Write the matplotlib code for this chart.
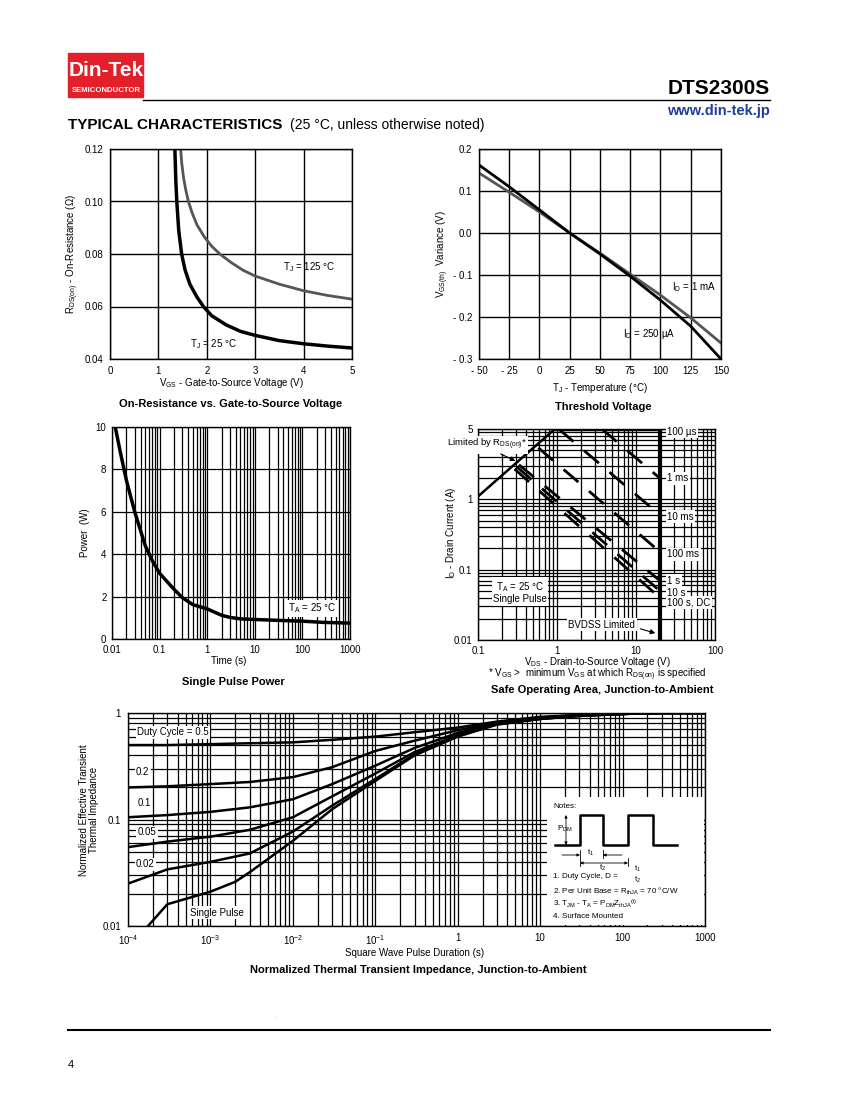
import matplotlib
matplotlib.use('Agg')
import matplotlib.pyplot as plt
from matplotlib.patches import Rectangle
from matplotlib.ticker import FixedLocator, FixedFormatter, LogLocator, NullFormatter

plt.rcParams['font.family'] = ['Liberation Sans', 'DejaVu Sans']
plt.rcParams['mathtext.default'] = 'regular'
plt.rcParams['font.size'] = 7

# ---- data ----
# on-resistance vs gate voltage
vgs_25 = [1.34, 1.36, 1.38, 1.42, 1.48, 1.55, 1.65, 1.8, 1.93, 2.1, 2.4, 2.7, 3.0, 3.5, 4.0, 4.5, 5.0]
rds_25 = [0.120, 0.108, 0.100, 0.089, 0.080, 0.074, 0.0685, 0.0635, 0.060, 0.0565, 0.053, 0.0505,
          0.049, 0.047, 0.0458, 0.0449, 0.0442]
vgs_125 = [1.46, 1.48, 1.52, 1.57, 1.62, 1.7, 1.8, 1.95, 2.1, 2.27, 2.5, 2.75, 3.0, 3.5, 4.0, 4.5, 5.0]
rds_125 = [0.120, 0.115, 0.109, 0.104, 0.100, 0.0955, 0.091, 0.0865, 0.083, 0.080, 0.0768, 0.0738,
           0.0716, 0.0685, 0.066, 0.0642, 0.0628]

# threshold voltage variance
temp = [-50, -25, 0, 25, 50, 75, 100, 125, 150]
vth_250ua = [0.162, 0.110, 0.055, 0.0, -0.050, -0.103, -0.160, -0.222, -0.300]
vth_1ma = [0.143, 0.097, 0.050, 0.0, -0.048, -0.098, -0.148, -0.202, -0.262]

# single pulse power
t_pulse = [0.0117, 0.015, 0.02, 0.03, 0.05, 0.07, 0.1, 0.2, 0.3, 0.5, 1, 2, 3, 5, 10, 30, 100, 300, 1000]
p_pulse = [10, 8.8, 7.5, 6.0, 4.4, 3.7, 3.1, 2.35, 1.95, 1.62, 1.42, 1.12, 1.02, 0.95, 0.92, 0.88,
           0.84, 0.78, 0.75]

# safe operating area
v_rds_lim = [0.1, 0.94]
i_rds_lim = [1.1, 10]
soa_names = ['100 µs', '1 ms', '10 ms', '100 ms', '1 s', '10 s', '100 s, DC']
soa_v0 = [0.94, 3.7, 1.05, 0.58, 0.33, 0.31, 0.29]
soa_i0 = [10, 10, 10, 5.4, 3.1, 2.9, 2.7]
soa_i1 = [10, 2.0, 0.6, 0.18, 0.07, 0.05, 0.04]
soa_label_y = [9.1, 2.0, 0.57, 0.165, 0.07, 0.047, 0.034]
bvdss = 20

# normalized transient thermal impedance
t_sq = [1e-4, 3e-4, 1e-3, 3e-3, 1e-2, 3e-2, 1e-1, 3e-1, 1, 3, 10, 30, 100, 300, 1000]
z_d05 = [0.50, 0.50, 0.51, 0.52, 0.53, 0.56, 0.60, 0.66, 0.73, 0.83, 0.92, 0.96, 0.99, 1.0, 1.0]
z_d02 = [0.20, 0.205, 0.215, 0.225, 0.25, 0.31, 0.44, 0.55, 0.69, 0.81, 0.90, 0.95, 0.98, 1.0, 1.0]
z_d01 = [0.105, 0.11, 0.118, 0.13, 0.155, 0.215, 0.32, 0.47, 0.65, 0.80, 0.89, 0.95, 0.98, 1.0, 1.0]
z_d005 = [0.055, 0.062, 0.069, 0.08, 0.105, 0.165, 0.27, 0.43, 0.62, 0.79, 0.88, 0.94, 0.98, 1.0, 1.0]
z_d002 = [0.025, 0.034, 0.040, 0.048, 0.077, 0.135, 0.24, 0.41, 0.61, 0.78, 0.88, 0.94, 0.98, 1.0, 1.0]
t_single = [1.75e-4, 3e-4, 1e-3, 2e-3, 3e-3, 1e-2, 3e-2, 1e-1, 3e-1, 1, 3, 10, 30, 100, 300, 1000]
z_single = [0.010, 0.016, 0.021, 0.026, 0.032, 0.063, 0.125, 0.23, 0.40, 0.60, 0.78, 0.88, 0.94,
            0.98, 1.0, 1.0]
duty_labels = ['Duty Cycle = 0.5', '0.2', '0.1', '0.05', '0.02', 'Single Pulse']

W, H = 850, 1100
fig = plt.figure(figsize=(8.5, 11), dpi=100)


def px_axes(l, t, r, b):
    return fig.add_axes([l / W, 1 - b / H, (r - l) / W, (b - t) / H])


def style(ax, pad=5):
    ax.tick_params(which='both', length=0, pad=pad, labelsize=7)
    for s in ax.spines.values():
        s.set_linewidth(1.0)
    ax.set_axisbelow(True)


white = dict(facecolor='white', edgecolor='none', pad=1)

# ---- 1: on-resistance ----
ax1 = px_axes(110, 149, 352, 359)
ax1.plot(vgs_125, rds_125, color='#555555', lw=2)
ax1.plot(vgs_25, rds_25, color='black', lw=2.5)
ax1.set_xlim(0, 5)
ax1.set_ylim(0.04, 0.12)
ax1.set_xticks(range(6))
ax1.set_yticks([0.04, 0.06, 0.08, 0.10, 0.12])
ax1.set_yticklabels(['0.04', '0.06', '0.08', '0.10', '0.12'])
ax1.grid(color='black', lw=1)
ax1.text(3.57, 0.075, 'T$_J$ = 125 °C', fontsize=7, va='center')
ax1.text(1.65, 0.0457, 'T$_J$ = 25 °C', fontsize=7, va='center')
style(ax1)

# ---- 2: threshold voltage ----
ax2 = px_axes(479, 149, 721, 359)
ax2.plot(temp, vth_1ma, color='#555555', lw=2)
ax2.plot(temp, vth_250ua, color='black', lw=2)
ax2.set_xlim(-50, 150)
ax2.set_ylim(-0.3, 0.2)
ax2.set_xticks(range(-50, 151, 25))
ax2.set_xticklabels(['- 50', '- 25', '0', '25', '50', '75', '100', '125', '150'])
ax2.set_yticks([-0.3, -0.2, -0.1, 0.0, 0.1, 0.2])
ax2.set_yticklabels(['- 0.3', '- 0.2', '- 0.1', '0.0', '0.1', '0.2'])
ax2.grid(color='black', lw=1)
ax2.text(109.5, -0.128, 'I$_D$ = 1 mA', fontsize=7, va='center')
ax2.text(69, -0.24, 'I$_D$ = 250 µA', fontsize=7, va='center')
style(ax2)

# ---- 3: single pulse power ----
ax3 = px_axes(112, 427, 350, 639)
ax3.plot(t_pulse, p_pulse, color='black', lw=2.5)
ax3.set_xscale('log')
ax3.set_xlim(0.01, 1000)
ax3.set_ylim(0, 10)
ax3.xaxis.set_major_locator(FixedLocator([0.01, 0.1, 1, 10, 100, 1000]))
ax3.xaxis.set_major_formatter(FixedFormatter(['0.01', '0.1', '1', '10', '100', '1000']))
ax3.xaxis.set_minor_locator(LogLocator(base=10, subs=range(2, 10)))
ax3.xaxis.set_minor_formatter(NullFormatter())
ax3.set_yticks(range(0, 11, 2))
ax3.grid(which='both', color='black', lw=0.9)
ax3.text(160, 1.45, 'T$_A$ = 25 °C', fontsize=7, ha='center', va='center', bbox=white)
style(ax3, pad=4)

# ---- 4: safe operating area ----
ax4 = px_axes(478, 429, 715, 640)
ax4.set_xscale('log')
ax4.set_yscale('log')
ax4.set_xlim(0.1, 100)
ax4.set_ylim(0.01, 10)
ax4.plot(v_rds_lim, i_rds_lim, color='black', lw=1.8)
for name, v0, i0, i1, ly in zip(soa_names, soa_v0, soa_i0, soa_i1, soa_label_y):
    if i0 == i1:
        ax4.plot([v0, bvdss], [i0, i1], color='black', lw=2.5)
    else:
        ax4.plot([v0, bvdss], [i0, i1], color='black', lw=2, dashes=(7, 5))
    ax4.text(25, ly, name, fontsize=7, va='center', bbox=white)
ax4.axvline(bvdss, color='black', lw=3)
ax4.xaxis.set_major_locator(FixedLocator([0.1, 1, 10, 100]))
ax4.xaxis.set_major_formatter(FixedFormatter(['0.1', '1', '10', '100']))
ax4.yaxis.set_major_locator(FixedLocator([0.01, 0.1, 1, 10]))
ax4.yaxis.set_major_formatter(FixedFormatter(['0.01', '0.1', '1', '5']))
for a in (ax4.xaxis, ax4.yaxis):
    a.set_minor_locator(LogLocator(base=10, subs=range(2, 10)))
    a.set_minor_formatter(NullFormatter())
ax4.grid(which='both', color='black', lw=0.9)
ax4.text(0.13, 6.0, 'Limited by R$_{DS(on)}$*', fontsize=6.8, ha='center', va='center',
         bbox=white, clip_on=False)
ax4.annotate('', xy=(0.32, 3.37), xytext=(0.18, 4.6),
             arrowprops=dict(arrowstyle='-|>', color='black', lw=0.8, mutation_scale=7))
ax4.text(0.34, 0.048, 'T$_A$ = 25 °C\nSingle Pulse', fontsize=7, ha='center', va='center',
         bbox=white, linespacing=1.1)
ax4.text(3.7, 0.0165, 'BVDSS Limited', fontsize=7, ha='center', va='center', bbox=white)
ax4.annotate('', xy=(19, 0.0122), xytext=(10.5, 0.0148),
             arrowprops=dict(arrowstyle='-|>', color='black', lw=0.8, mutation_scale=7))
style(ax4, pad=4)

# ---- 5: transient thermal impedance ----
ax5 = px_axes(128, 713, 705, 926)
ax5.set_xscale('log')
ax5.set_yscale('log')
ax5.set_xlim(1e-4, 1000)
ax5.set_ylim(0.01, 1)
for z in (z_d05, z_d02, z_d01, z_d005, z_d002):
    ax5.plot(t_sq, z, color='black', lw=1.8)
ax5.plot(t_single, z_single, color='black', lw=1.8)
ax5.xaxis.set_major_locator(FixedLocator([1e-4, 1e-3, 1e-2, 1e-1, 1, 10, 100, 1000]))
ax5.xaxis.set_major_formatter(FixedFormatter(['$10^{-4}$', '$10^{-3}$', '$10^{-2}$', '$10^{-1}$',
                                              '1', '10', '100', '1000']))
ax5.yaxis.set_major_locator(FixedLocator([0.01, 0.1, 1]))
ax5.yaxis.set_major_formatter(FixedFormatter(['0.01', '0.1', '1']))
for a in (ax5.xaxis, ax5.yaxis):
    a.set_minor_locator(LogLocator(base=10, subs=range(2, 10)))
    a.set_minor_formatter(NullFormatter())
ax5.grid(which='both', color='black', lw=0.9)
label_pos = [(1.3e-4, 0.66), (1.25e-4, 0.279), (1.3e-4, 0.143), (1.3e-4, 0.076), (1.25e-4, 0.038),
             (5.7e-4, 0.0133)]
for txt, (lx, ly) in zip(duty_labels, label_pos):
    ax5.text(lx, ly, txt, fontsize=7, va='center', bbox=white)
style(ax5)

# ---- page decoration in pixel coordinates ----
page = fig.add_axes([0, 0, 1, 1])
page.set_xlim(0, W)
page.set_ylim(H, 0)
page.axis('off')
page.set_zorder(10)
page.patch.set_visible(False)

# logo and header
page.add_patch(Rectangle((68, 53), 75, 44, color='#e3202a'))
page.text(106, 71, 'Din-Tek', color='white', fontsize=15, fontweight='bold', ha='center', va='center')
page.text(106, 90, 'SEMICONDUCTOR', color='white', fontsize=5.6, fontweight='bold', ha='center',
          va='center')
page.plot([143, 770], [100, 100], color='black', lw=1)
page.text(770, 88, 'DTS2300S', fontsize=15, fontweight='bold', ha='right', va='center')
page.text(770, 111, 'www.din-tek.jp', fontsize=10.5, fontweight='bold', ha='right', va='center',
          color='#1f3d9a')
page.text(68, 125, 'TYPICAL CHARACTERISTICS', fontsize=11, fontweight='heavy', va='center')
page.text(290, 125, '(25 °C, unless otherwise noted)', fontsize=10, va='center')

# axis labels and titles
page.text(73, 254, 'R$_{DS(on)}$ - On-Resistance (Ω)', fontsize=7, rotation=90, ha='center', va='center')
page.text(231, 383, 'V$_{GS}$ - Gate-to-Source Voltage (V)', fontsize=7, ha='center', va='center')
page.text(231, 404, 'On-Resistance vs. Gate-to-Source Voltage', fontsize=8, fontweight='bold',
          ha='center', va='center')
page.text(443, 254, 'V$_{GS(th)}$  Variance (V)', fontsize=7, rotation=90, ha='center', va='center')
page.text(600, 388, 'T$_J$ - Temperature (°C)', fontsize=7, ha='center', va='center')
page.text(603, 407, 'Threshold Voltage', fontsize=8, fontweight='bold', ha='center', va='center')
page.text(85, 533, 'Power  (W)', fontsize=7, rotation=90, ha='center', va='center')
page.text(229, 661, 'Time (s)', fontsize=7, ha='center', va='center')
page.text(233, 682, 'Single Pulse Power', fontsize=8, fontweight='bold', ha='center', va='center')
page.text(451, 533, 'I$_D$ - Drain Current (A)', fontsize=7, rotation=90, ha='center', va='center')
page.text(597, 662, 'V$_{DS}$ - Drain-to-Source Voltage (V)', fontsize=7, ha='center', va='center')
page.text(597, 675, '* V$_{GS}$ >  minimum V$_{GS}$ at which R$_{DS(on)}$ is specified', fontsize=7,
          ha='center', va='center')
page.text(602, 690, 'Safe Operating Area, Junction-to-Ambient', fontsize=8, fontweight='bold',
          ha='center', va='center')
page.text(89, 810, 'Normalized Effective Transient\nThermal Impedance', fontsize=7, rotation=90,
          ha='center', va='center', linespacing=1.0)
page.text(415, 953, 'Square Wave Pulse Duration (s)', fontsize=7, ha='center', va='center')
page.text(418, 970, 'Normalized Thermal Transient Impedance, Junction-to-Ambient', fontsize=8,
          fontweight='bold', ha='center', va='center')

# notes box
page.add_patch(Rectangle((547, 797), 157, 128, facecolor='white', edgecolor='none'))
page.text(553, 806, 'Notes:', fontsize=5.8, va='center')
page.plot([555, 580, 580, 603, 603, 628, 628, 653, 653, 677],
          [845, 845, 815, 815, 845, 845, 815, 815, 845, 845], color='black', lw=1.8)
page.text(557, 829, 'P$_{DM}$', fontsize=5.8, va='center')
page.annotate('', xy=(566, 815), xytext=(566, 845),
              arrowprops=dict(arrowstyle='<|-|>', color='black', lw=0.6, mutation_scale=4,
                              shrinkA=0, shrinkB=0))
page.annotate('', xy=(580, 855), xytext=(562, 855),
              arrowprops=dict(arrowstyle='-|>', color='black', lw=0.6, mutation_scale=4,
                              shrinkA=0, shrinkB=0))
page.annotate('', xy=(603, 855), xytext=(622, 855),
              arrowprops=dict(arrowstyle='-|>', color='black', lw=0.6, mutation_scale=4,
                              shrinkA=0, shrinkB=0))
page.annotate('', xy=(628, 863), xytext=(580, 863),
              arrowprops=dict(arrowstyle='<|-|>', color='black', lw=0.6, mutation_scale=4,
                              shrinkA=0, shrinkB=0))
for x0, y0, y1 in [(580, 850, 866), (603, 850, 858), (628, 858, 866)]:
    page.plot([x0, x0], [y0, y1], color='black', lw=0.6)
page.text(591, 853, 't$_1$', fontsize=5.8, ha='center', va='center')
page.text(603, 868, 't$_2$', fontsize=5.8, ha='center', va='center')
page.text(553, 876, '1. Duty Cycle, D =', fontsize=5.8, va='center')
page.text(637, 869, 't$_1$', fontsize=5.5, ha='center', va='center')
page.text(637, 879.5, 't$_2$', fontsize=5.5, ha='center', va='center')
page.text(553, 891, '2. Per Unit Base = R$_{thJA}$ = 70 °C/W', fontsize=5.8, va='center')
page.text(553, 904, '3. T$_{JM}$ - T$_A$ = P$_{DM}$Z$_{thJA}$$^{(t)}$', fontsize=5.8, va='center')
page.text(553, 917, '4. Surface Mounted', fontsize=5.8, va='center')

# footer
page.plot([68, 770], [1030, 1030], color='black', lw=1.5)
page.text(68, 1065, '4', fontsize=8, va='center')
page.text(275, 1017, '.', fontsize=4, color='#888888', ha='center', va='center')

fig.savefig('out.png', dpi=100)
